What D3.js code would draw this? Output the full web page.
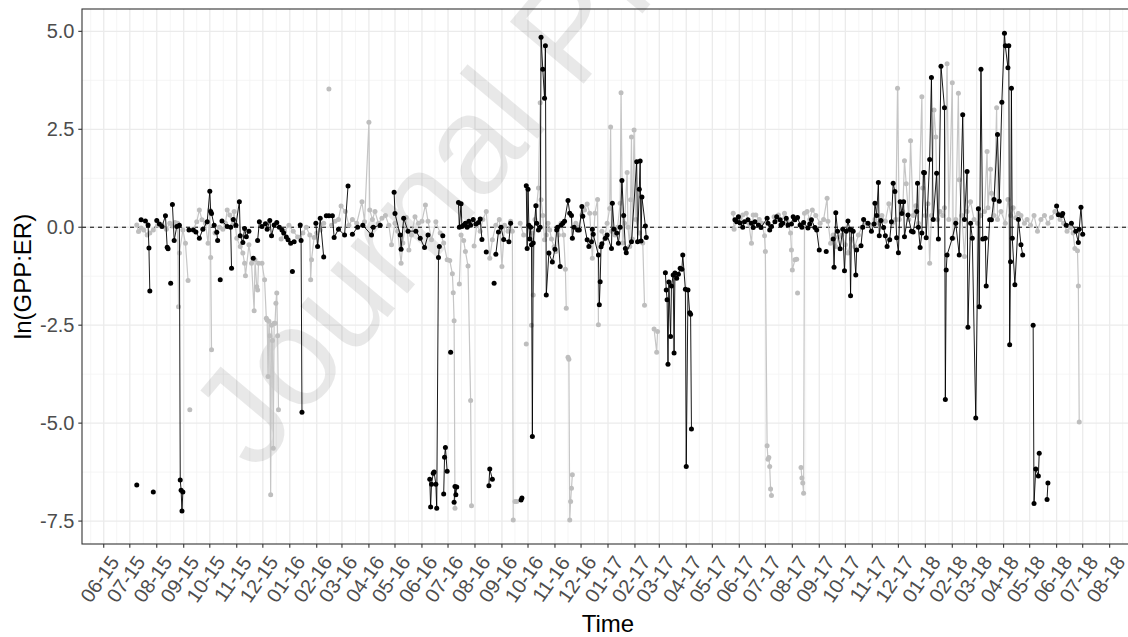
<!DOCTYPE html>
<html>
<head>
<meta charset="utf-8">
<script src="https://cdn.jsdelivr.net/npm/d3@7"></script>
<style>
  body { margin: 0; background: #fff; }
  text { font-family: Arial, "Liberation Sans", Helvetica, sans-serif; }
</style>
</head>
<body>
<svg id="chart" width="1128" height="637"></svg>
<script>
// values: [date, ln(GPP:ER)], null = gap in the record
var blackSeries = [
  ["2015-07-09",-6.58], null,
  ["2015-07-14",0.19],["2015-07-19",0.16],["2015-07-22",0.06],["2015-07-23",-0.53],["2015-07-24",-1.63], null,
  ["2015-07-28",-6.76], null,
  ["2015-08-01",0.17],["2015-08-04",0.08],["2015-08-07",0.02],["2015-08-11",0.29],["2015-08-13",-0.51],["2015-08-14",-0.55], null,
  ["2015-08-17",-1.43], null,
  ["2015-08-19",0.58],["2015-08-21",-0.34],["2015-08-24",0.02],["2015-08-27",0.05],["2015-08-28",-6.45],["2015-08-29",-6.71],["2015-08-30",-7.24],["2015-08-31",-6.76], null,
  ["2015-09-07",-0.07],["2015-09-12",-0.07],["2015-09-15",-0.12],["2015-09-19",-0.28],["2015-09-23",-0.05],["2015-09-28",0.14],["2015-10-01",0.92],["2015-10-02",0.40],["2015-10-03",0.35],["2015-10-06",0.05],["2015-10-09",-0.13],["2015-10-10",-0.34], null,
  ["2015-10-13",-1.34], null,
  ["2015-10-15",0.16],["2015-10-21",0.02],["2015-10-25",0.0],["2015-10-26",-1.05], null,
  ["2015-10-28",0.20],["2015-10-31",0.05],["2015-11-04",0.65],["2015-11-05",-0.22],["2015-11-08",-0.39],["2015-11-10",-0.03],["2015-11-12",-0.24],["2015-11-15",-0.10], null,
  ["2015-11-20",-0.79], null,
  ["2015-11-25",-0.34],["2015-11-27",0.14],["2015-11-30",0.02],["2015-12-04",0.09],["2015-12-06",-0.05],["2015-12-09",0.17],["2015-12-11",-0.22],["2015-12-14",0.06],["2015-12-17",0.12],["2015-12-20",0.0],["2015-12-23",-0.07],["2015-12-25",-0.15],["2015-12-28",-0.25],["2015-12-30",-0.32],["2016-01-02",-0.41], null,
  ["2016-01-04",-1.13], null,
  ["2016-01-06",-0.37], null,
  ["2016-01-13",0.06],["2016-01-14",-0.34],["2016-01-15",-4.72], null,
  ["2016-01-31",0.10],["2016-02-02",-0.49],["2016-02-05",0.23],["2016-02-09",-0.76], null,
  ["2016-02-12",0.29],["2016-02-15",0.29],["2016-02-19",0.29],["2016-02-21",-0.26],["2016-02-26",-0.05],["2016-03-04",-0.20],["2016-03-08",1.05], null,
  ["2016-03-13",-0.18],["2016-03-19",0.0],["2016-03-25",0.05],["2016-04-04",-0.20],["2016-04-06",0.0],["2016-04-14",0.05], null,
  ["2016-04-30",0.89],["2016-05-01",0.35],["2016-05-07",-0.20],["2016-05-08",-0.56],["2016-05-11",0.23],["2016-05-16",-0.10],["2016-05-25",-0.10],["2016-05-30",-0.28],["2016-06-04",-0.52],["2016-06-08",-0.20], null,
  ["2016-06-10",-6.43],["2016-06-11",-7.14],["2016-06-12",-6.56],["2016-06-14",-6.28],["2016-06-15",-6.25],["2016-06-17",-6.56],["2016-06-18",-7.17],["2016-06-20",-0.77],["2016-06-21",-0.49], null,
  ["2016-06-25",-0.22], null,
  ["2016-06-26",-6.81],["2016-06-27",-5.87],["2016-06-28",-5.62],["2016-06-30",-6.23], null,
  ["2016-07-04",-3.19], null,
  ["2016-07-08",-7.02],["2016-07-09",-6.62],["2016-07-10",-6.83],["2016-07-11",-6.63], null,
  ["2016-07-13",0.63],["2016-07-14",0.0],["2016-07-16",0.6],["2016-07-17",0.02],["2016-07-19",0.05],["2016-07-21",0.1],["2016-07-23",0.0],["2016-07-25",0.15],["2016-07-27",0.05],["2016-07-30",0.2],["2016-08-02",0.08],["2016-08-05",0.12],["2016-08-07",0.21],["2016-08-09",-0.31], null,
  ["2016-08-14",-0.63], null,
  ["2016-08-17",-6.60],["2016-08-18",-6.17],["2016-08-21",-6.43], null,
  ["2016-08-23",-1.43], null,
  ["2016-08-25",-0.69],["2016-08-28",-0.12],["2016-08-31",0.0],["2016-09-03",-0.31],["2016-09-09",-0.37],["2016-09-11",0.1], null,
  ["2016-09-23",-6.96],["2016-09-24",-6.91], null,
  ["2016-09-29",1.06],["2016-09-30",-0.54],["2016-10-01",0.97],["2016-10-02",0.05],["2016-10-03",-0.3],["2016-10-04",0.0],["2016-10-05",-0.45],["2016-10-06",-5.34],["2016-10-07",-0.4],["2016-10-10",0.55],["2016-10-11",0.1],["2016-10-13",-0.07],["2016-10-15",0.0],["2016-10-16",4.85],["2016-10-18",4.03],["2016-10-20",3.29],["2016-10-21",4.63],["2016-10-22",-1.73],["2016-10-25",-0.66],["2016-10-29",-0.89],["2016-11-01",-0.56],["2016-11-03",-0.07],["2016-11-04",0.0],["2016-11-07",-1.0], null,
  ["2016-11-08",0.05],["2016-11-10",0.1],["2016-11-12",0.15],["2016-11-16",0.68],["2016-11-18",0.36],["2016-11-20",0.3],["2016-11-21",-0.28],["2016-11-23",0.0],["2016-11-27",-0.07],["2016-11-29",-0.07],["2016-12-02",0.53],["2016-12-03",0.28],["2016-12-08",-0.32],["2016-12-10",-0.49],["2016-12-13",-0.37],["2016-12-14",-0.05],["2016-12-15",-0.18],["2016-12-21",-0.71],["2016-12-22",-1.98],["2016-12-23",-1.39],["2016-12-24",-0.5],["2016-12-25",-0.42],["2016-12-29",-0.28],["2016-12-31",-0.2],
  ["2017-01-05",-0.54],["2017-01-06",0.61],["2017-01-08",-0.05],["2017-01-11",-0.15],["2017-01-13",-0.41],["2017-01-15",0.0],["2017-01-17",1.19],["2017-01-19",0.3],["2017-01-21",-0.54],["2017-01-22",-0.65],["2017-01-28",-0.37],["2017-02-03",1.67],["2017-02-04",-0.37],["2017-02-06",0.97],["2017-02-07",1.69],["2017-02-08",-0.35],["2017-02-09",0.77],["2017-02-13",0.03],["2017-02-14",-0.26], null,
  ["2017-03-08",-1.16],["2017-03-09",-1.6],["2017-03-10",-1.85],["2017-03-11",-3.5],["2017-03-12",-1.4],["2017-03-14",-2.79],["2017-03-15",-1.5],["2017-03-17",-1.22],["2017-03-18",-3.21],["2017-03-19",-1.17],["2017-03-21",-1.3],["2017-03-23",-1.2],["2017-03-25",-1.05],["2017-03-27",-1.07],["2017-03-28",-0.71],["2017-03-31",-1.58],["2017-04-01",-6.11],["2017-04-03",-1.6],["2017-04-05",-2.18],["2017-04-06",-2.22],["2017-04-07",-5.15], null,
  ["2017-05-27",0.19],["2017-05-29",0.14],["2017-05-31",0.27],["2017-06-02",0.11],["2017-06-05",0.0],["2017-06-07",0.14],["2017-06-11",0.19],["2017-06-15",0.1],["2017-06-17",-0.01],["2017-06-19",0.14],["2017-06-23",0.06],["2017-06-26",-0.01],["2017-07-03",0.23],["2017-07-04",0.1],["2017-07-06",-0.07],["2017-07-08",0.02],["2017-07-12",0.14],["2017-07-14",0.27],["2017-07-18",0.19],["2017-07-19",0.06],["2017-07-21",0.1],["2017-07-25",0.23],["2017-07-27",0.06],["2017-07-31",0.08],["2017-08-02",0.27],["2017-08-04",0.19],["2017-08-07",0.25],["2017-08-10",0.06],["2017-08-12",0.0],["2017-08-14",0.12],["2017-08-19",-0.02],["2017-08-21",0.08],["2017-08-23",0.19],["2017-08-27",-0.01],["2017-08-29",-0.07],["2017-09-01",-0.58], null,
  ["2017-09-09",-0.62], null,
  ["2017-09-17",-0.3],["2017-09-18",-1.02],["2017-09-20",0.37],["2017-09-22",-0.1],["2017-09-25",-0.55],["2017-09-28",-0.05],["2017-09-30",-1.11],["2017-10-02",-0.1],["2017-10-04",0.16],["2017-10-06",-0.05],["2017-10-07",-1.75],["2017-10-08",-0.07],["2017-10-10",-0.1],["2017-10-13",-1.22],["2017-10-14",-0.58],["2017-10-19",-0.47],["2017-10-21",0.0],["2017-10-22",0.2],["2017-10-27",0.1],["2017-10-31",-0.1],
  ["2017-11-03",0.08],["2017-11-04",0.61],["2017-11-06",0.3],["2017-11-08",1.14],["2017-11-09",-0.22],["2017-11-11",0.17],["2017-11-14",-0.01],["2017-11-16",-0.22],["2017-11-18",-0.49],["2017-11-21",-0.32],["2017-11-23",0.14],["2017-11-25",1.12],["2017-11-27",0.91],["2017-11-29",-0.27],["2017-12-01",-0.65],["2017-12-03",0.65],["2017-12-05",0.35],["2017-12-07",0.65],["2017-12-08",-0.24],["2017-12-12",0.31],["2017-12-16",-0.1],["2017-12-18",-0.12],["2017-12-22",0.40],["2017-12-23",1.12],["2017-12-24",0.0],["2017-12-26",-0.52],["2017-12-28",-0.15],["2017-12-30",1.40],["2017-12-31",1.39],
  ["2018-01-02",-0.27],["2018-01-06",1.73],["2018-01-08",3.82],["2018-01-10",0.2],["2018-01-14",1.38],["2018-01-16",-0.3],["2018-01-19",4.11],["2018-01-23",3.05],["2018-01-24",-4.40],["2018-01-25",-1.09],["2018-01-26",-0.71],["2018-02-01",-0.28],["2018-02-05",0.1],["2018-02-09",-0.71],["2018-02-13",2.87],["2018-02-15",0.2],["2018-02-18",1.42],["2018-02-19",-2.55],["2018-02-22",0.1],["2018-02-24",-0.28],["2018-02-28",-4.87],["2018-03-03",0.47],["2018-03-04",-2.03],["2018-03-06",4.03],["2018-03-08",-0.3],["2018-03-11",-0.28],["2018-03-12",-1.5],["2018-03-16",0.19],["2018-03-18",0.19],["2018-03-21",0.71],["2018-03-25",2.37],["2018-03-27",0.66],["2018-03-30",3.19],["2018-04-02",4.95],["2018-04-03",4.63],["2018-04-06",4.07],["2018-04-07",4.63],["2018-04-08",-3.0],["2018-04-09",-0.88],["2018-04-10",3.55],["2018-04-11",-0.28],["2018-04-14",-1.47],["2018-04-18",0.2],["2018-04-21",-0.45],["2018-04-23",-0.71], null,
  ["2018-05-05",-2.5],["2018-05-06",-7.05],["2018-05-08",-6.17],["2018-05-11",-6.35],["2018-05-12",-5.77], null,
  ["2018-05-21",-6.95],["2018-05-22",-6.53], null,
  ["2018-06-01",0.54],["2018-06-03",0.32],["2018-06-07",0.3],["2018-06-08",0.35],["2018-06-12",0.05],["2018-06-18",0.1],["2018-06-23",-0.1],["2018-06-26",-0.39],["2018-06-27",-0.05],["2018-06-29",0.51],["2018-07-01",-0.18]
];

var greySeries = [
  ["2015-07-09",0.06],["2015-07-11",-0.11],["2015-07-14",-0.02],["2015-07-17",-0.07],["2015-07-21",-0.2],["2015-07-24",-0.15],["2015-07-28",-0.07],["2015-08-02",0.05],["2015-08-07",0.06],["2015-08-12",-0.05],["2015-08-16",0.1],["2015-08-19",0.03],["2015-08-22",0.12],["2015-08-25",0.1],["2015-08-26",-2.03],["2015-08-27",-0.66],["2015-08-31",-0.07],["2015-09-03",-0.41],["2015-09-06",-1.36], null,
  ["2015-09-08",-4.66], null,
  ["2015-09-12",-0.05],["2015-09-16",0.14],["2015-09-19",0.44],["2015-09-22",0.19],["2015-09-26",0.1],["2015-09-29",-0.41],["2015-10-01",0.44],["2015-10-02",-0.77],["2015-10-03",-3.13], null,
  ["2015-10-07",-0.15],["2015-10-12",0.0],["2015-10-16",-0.05],["2015-10-19",0.1],["2015-10-21",0.44],["2015-10-24",0.31],["2015-10-27",0.05],["2015-10-29",0.4],["2015-10-30",0.14],["2015-11-01",-0.28],["2015-11-05",-0.49],["2015-11-08",-0.66],["2015-11-10",-0.92],["2015-11-11",-1.24],["2015-11-15",-0.45],["2015-11-18",-0.92],["2015-11-21",-2.13],["2015-11-22",-0.83],["2015-11-24",-1.52],["2015-11-25",-1.6],["2015-11-26",-0.92],["2015-11-30",-0.92],["2015-12-03",-1.34],["2015-12-05",-2.32],["2015-12-06",-2.37],["2015-12-07",-3.81],["2015-12-08",-2.4],["2015-12-09",-2.77],["2015-12-10",-6.83],["2015-12-11",-2.5],["2015-12-12",-2.89],["2015-12-13",-5.64],["2015-12-14",-2.45],["2015-12-15",-2.45],["2015-12-16",-1.94],["2015-12-17",-1.68],["2015-12-18",-2.77],["2015-12-19",-4.66], null,
  ["2015-12-22",-0.3],["2015-12-26",-0.1],["2015-12-31",0.05],["2016-01-05",-0.1],["2016-01-10",-0.25],["2016-01-16",-0.15],["2016-01-20",0.0],["2016-01-24",-0.2],["2016-01-25",-1.34],["2016-01-26",-0.83],["2016-01-29",-0.26],["2016-02-01",-0.15],["2016-02-05",-0.07],["2016-02-09",0.1], null,
  ["2016-02-15",3.53], null,
  ["2016-02-18",0.05],["2016-02-22",0.15],["2016-02-26",0.2],["2016-02-29",0.54],["2016-03-05",0.4],["2016-03-09",0.05],["2016-03-13",0.2],["2016-03-18",0.1],["2016-03-24",0.65],["2016-03-27",0.14],["2016-04-01",2.68],["2016-04-02",0.44],["2016-04-05",0.2],["2016-04-08",0.4],["2016-04-12",0.1],["2016-04-16",0.23],["2016-04-20",0.3],["2016-04-24",0.05],["2016-04-27",-0.45],["2016-05-01",0.1],["2016-05-04",-0.1],["2016-05-08",-0.92],["2016-05-10",-0.4],["2016-05-14",0.25],["2016-05-17",-0.58],["2016-05-20",-0.2],["2016-05-24",0.27],["2016-05-28",0.1],["2016-06-01",0.15],["2016-06-05",0.57],["2016-06-08",0.15],["2016-06-12",-0.32],["2016-06-17",0.14],["2016-06-22",-0.15],["2016-06-26",-0.4],["2016-06-30",-0.83],["2016-07-03",-0.85],["2016-07-06",-1.19],["2016-07-07",-1.67],["2016-07-08",-2.39],["2016-07-09",-7.17], null,
  ["2016-07-14",-1.45],["2016-07-16",-0.2],["2016-07-19",-0.34],["2016-07-21",-0.62],["2016-07-24",-0.99],["2016-07-27",-4.42],["2016-07-28",-7.11], null,
  ["2016-07-31",-0.48],["2016-08-03",0.05],["2016-08-07",-0.1],["2016-08-10",0.2],["2016-08-14",0.4],["2016-08-18",-0.79],["2016-08-21",-0.32],["2016-08-25",0.05],["2016-08-29",0.2],["2016-09-01",-1.0],["2016-09-04",0.05],["2016-09-08",-0.1],["2016-09-11",0.15],["2016-09-13",-0.1],["2016-09-14",-7.47], null,
  ["2016-09-16",-7.0],["2016-09-18",-7.0], null,
  ["2016-09-22",0.1],["2016-09-26",-0.2], null,
  ["2016-09-29",-2.98], null,
  ["2016-10-05",-2.5], null,
  ["2016-10-06",-0.15],["2016-10-07",-1.73],["2016-10-09",0.2],["2016-10-11",0.55],["2016-10-13",1.0],["2016-10-15",3.18],["2016-10-16",0.7],["2016-10-18",0.3],["2016-10-20",-0.32],["2016-10-22",-0.2],["2016-10-24",0.1],["2016-10-26",-0.07],["2016-10-28",-0.3],["2016-10-31",-0.5],["2016-11-02",-0.62],["2016-11-05",-0.2],["2016-11-08",0.1],["2016-11-11",-0.2],["2016-11-13",-1.07],["2016-11-14",-2.07], null,
  ["2016-11-16",-3.32],["2016-11-17",-3.37],["2016-11-18",-7.47],["2016-11-19",-7.0],["2016-11-20",-6.66],["2016-11-21",-6.32], null,
  ["2016-11-25",0.1],["2016-11-28",0.0],["2016-12-02",0.31],["2016-12-05",0.44],["2016-12-08",0.59],["2016-12-11",0.36],["2016-12-14",-0.79],["2016-12-17",0.36],["2016-12-20",0.71],["2016-12-21",-2.49], null,
  ["2016-12-25",-0.1],["2016-12-28",-0.3],["2016-12-31",0.1],["2017-01-03",0.48],["2017-01-04",2.56],["2017-01-05",-0.1],["2017-01-09",-0.2],["2017-01-12",0.0],["2017-01-15",0.61],["2017-01-16",3.43],["2017-01-18",-0.4],["2017-01-20",0.1],["2017-01-23",1.4],["2017-01-24",0.0],["2017-01-26",-0.49],["2017-01-27",0.7],["2017-01-28",2.30],["2017-01-29",-0.3],["2017-01-31",2.48],["2017-02-02",0.2],["2017-02-06",-0.15],["2017-02-10",-0.4],["2017-02-12",-1.99], null,
  ["2017-02-23",-2.6],["2017-02-26",-3.19],["2017-02-27",-2.66], null,
  ["2017-05-25",0.36],["2017-05-26",-0.05],["2017-05-29",0.2],["2017-06-02",0.23],["2017-06-05",0.31],["2017-06-09",0.36],["2017-06-12",0.1],["2017-06-15",-0.41],["2017-06-17",0.31],["2017-06-20",0.31],["2017-06-24",0.2],["2017-06-27",0.1],["2017-06-30",-0.22],["2017-07-01",-0.62],["2017-07-03",-5.58],["2017-07-04",-5.92],["2017-07-05",-5.88],["2017-07-06",-6.11],["2017-07-07",-6.68],["2017-07-08",-6.85], null,
  ["2017-07-11",0.27],["2017-07-14",0.2],["2017-07-16",0.31],["2017-07-19",0.1],["2017-07-23",0.36],["2017-07-26",0.15],["2017-07-30",-0.15],["2017-07-31",-0.58],["2017-08-01",-1.09],["2017-08-04",-0.83],["2017-08-06",-0.82], null,
  ["2017-08-07",-1.68], null,
  ["2017-08-11",-6.13],["2017-08-12",-6.4],["2017-08-13",-6.53],["2017-08-14",-6.79],["2017-08-15",0.36],["2017-08-18",0.4],["2017-08-21",0.2],["2017-08-24",0.44],["2017-08-28",0.3],["2017-09-02",0.1],["2017-09-06",0.2],["2017-09-10",0.74],["2017-09-11",0.15],["2017-09-14",-0.41],["2017-09-17",-0.2],["2017-09-20",-0.49],["2017-09-23",-0.25],["2017-09-27",-0.2],["2017-10-01",-0.45],["2017-10-04",-0.66],["2017-10-08",-0.3],["2017-10-12",-0.5],["2017-10-16",-0.2],["2017-10-20",0.0],["2017-10-25",0.1],["2017-10-30",0.05],
  ["2017-11-04",0.2],["2017-11-08",0.1],["2017-11-12",0.3],["2017-11-16",0.15],["2017-11-20",0.6],["2017-11-24",0.1],["2017-11-28",0.2],["2017-11-30",3.55],["2017-12-02",0.2],["2017-12-06",0.4],["2017-12-08",1.7],["2017-12-10",1.11],["2017-12-13",0.2],["2017-12-15",2.21],["2017-12-18",0.3],["2017-12-21",0.55],["2017-12-24",0.1],["2017-12-28",3.33],["2017-12-29",1.0],
  ["2018-01-01",0.3],["2018-01-04",0.6],["2018-01-06",-0.92],["2018-01-08",0.3],["2018-01-11",2.99],["2018-01-13",2.30],["2018-01-15",0.2],["2018-01-18",0.4],["2018-01-21",0.3],["2018-01-23",0.5],["2018-01-26",4.17],["2018-01-28",0.2],["2018-02-01",3.69],["2018-02-02",-0.28],["2018-02-05",0.2],["2018-02-08",3.42],["2018-02-09",1.21],["2018-02-12",0.3],["2018-02-15",-0.75],["2018-02-18",0.4],["2018-02-22",0.65],["2018-02-26",0.2],["2018-03-02",0.1],["2018-03-06",0.3],["2018-03-10",0.4],["2018-03-13",1.93],["2018-03-14",0.5],["2018-03-17",1.48],["2018-03-18",0.87],["2018-03-21",0.3],["2018-03-24",3.05],["2018-03-25",0.2],["2018-03-29",0.4],["2018-04-03",0.1],["2018-04-06",0.71],["2018-04-09",0.3],["2018-04-12",0.5],["2018-04-15",0.24],["2018-04-18",0.35],["2018-04-21",0.3],["2018-04-25",0.1],["2018-04-28",0.2],["2018-05-02",0.05],["2018-05-06",0.3],["2018-05-10",-0.1],["2018-05-14",0.2],["2018-05-18",0.3],["2018-05-22",0.1],["2018-05-26",0.25],["2018-05-30",0.4],["2018-06-02",0.36],["2018-06-05",0.2],["2018-06-09",0.1],["2018-06-13",-0.1],["2018-06-17",0.0],["2018-06-20",-0.15],["2018-06-22",-0.54],["2018-06-25",-0.6],["2018-06-26",-1.5],["2018-06-27",-4.97]
];

var yTicks = [-7.5, -5.0, -2.5, 0.0, 2.5, 5.0];
var yMinor = [-6.25, -3.75, -1.25, 1.25, 3.75];
var xDomain = ["2015-05-07", "2018-08-29"];
var yDomain = [-8.085, 5.57];
var watermark = "Journal Pre-proof";

var W = 1128, H = 637;
var panel = {left: 82, right: 1134, top: 9, bottom: 544};

var parseDate = d3.timeParse("%Y-%m-%d");
var fmtTick = d3.timeFormat("%m-%y");

function rows(series) {
  return series.map(function(p) {
    return p ? {date: parseDate(p[0]), value: p[1]} : null;
  });
}
var black = rows(blackSeries), grey = rows(greySeries);

var x = d3.scaleTime()
  .domain(xDomain.map(parseDate))
  .range([panel.left, panel.right]);
var y = d3.scaleLinear().domain(yDomain).range([panel.bottom, panel.top]);

// monthly breaks, minor breaks half way between them
var months = d3.timeMonth.range(parseDate("2015-06-01"), parseDate("2018-08-02"));
var minor = [];
for (var i = 0; i < months.length - 1; i++) {
  minor.push(new Date((+months[i] + +months[i + 1]) / 2));
}
minor.unshift(new Date(+months[0] - (+months[1] - +months[0]) / 2));
minor.push(new Date(+months[months.length - 1] + (+months[1] - +months[0]) / 2));

var svg = d3.select("#chart");
svg.append("rect").attr("width", W).attr("height", H).attr("fill", "#fff");

svg.append("clipPath").attr("id", "clip")
  .append("rect")
  .attr("x", panel.left).attr("y", panel.top)
  .attr("width", panel.right - panel.left).attr("height", panel.bottom - panel.top);

var grid = svg.append("g").attr("clip-path", "url(#clip)");

grid.selectAll(".vminor").data(minor).enter().append("line")
  .attr("x1", function(d) { return x(d); }).attr("x2", function(d) { return x(d); })
  .attr("y1", panel.top).attr("y2", panel.bottom)
  .attr("stroke", "#f3f3f3").attr("stroke-width", 0.8);
grid.selectAll(".hminor").data(yMinor).enter().append("line")
  .attr("x1", panel.left).attr("x2", panel.right)
  .attr("y1", function(d) { return y(d); }).attr("y2", function(d) { return y(d); })
  .attr("stroke", "#f3f3f3").attr("stroke-width", 0.8);
grid.selectAll(".vmajor").data(months).enter().append("line")
  .attr("x1", function(d) { return x(d); }).attr("x2", function(d) { return x(d); })
  .attr("y1", panel.top).attr("y2", panel.bottom)
  .attr("stroke", "#ebebeb").attr("stroke-width", 1.3);
grid.selectAll(".hmajor").data(yTicks).enter().append("line")
  .attr("x1", panel.left).attr("x2", panel.right)
  .attr("y1", function(d) { return y(d); }).attr("y2", function(d) { return y(d); })
  .attr("stroke", "#ebebeb").attr("stroke-width", 1.3);

// watermark of the source document, kept inside the picture
svg.append("clipPath").attr("id", "page")
  .append("rect").attr("width", W).attr("height", H);
svg.append("g").attr("clip-path", "url(#page)")
  .append("text")
  .attr("transform", "translate(256,474) rotate(-50)")
  .attr("font-size", 140)
  .attr("fill", "#000").attr("fill-opacity", 0.09)
  .text(watermark);

var plot = svg.append("g").attr("clip-path", "url(#clip)");

plot.append("line")
  .attr("x1", panel.left).attr("x2", panel.right)
  .attr("y1", y(0)).attr("y2", y(0))
  .attr("stroke", "#000").attr("stroke-width", 1)
  .attr("stroke-dasharray", "4,4");

var line = d3.line()
  .defined(function(d) { return d !== null; })
  .x(function(d) { return x(d.date); })
  .y(function(d) { return y(d.value); });

function drawSeries(data, lineColor, lineWidth, pointColor) {
  plot.append("path").datum(data)
    .attr("d", line)
    .attr("fill", "none")
    .attr("stroke", lineColor)
    .attr("stroke-width", lineWidth);
  plot.append("g").selectAll("circle")
    .data(data.filter(function(d) { return d !== null; }))
    .enter().append("circle")
    .attr("cx", function(d) { return x(d.date); })
    .attr("cy", function(d) { return y(d.value); })
    .attr("r", 2.5)
    .attr("fill", pointColor);
}
drawSeries(grey, "#c6c6c6", 1.2, "#bebebe");
drawSeries(black, "#000", 0.9, "#000");

// panel border
svg.append("rect")
  .attr("x", panel.left).attr("y", panel.top)
  .attr("width", panel.right - panel.left).attr("height", panel.bottom - panel.top)
  .attr("fill", "none").attr("stroke", "#333").attr("stroke-width", 1.1);

// y axis
var yAxis = svg.append("g");
yAxis.selectAll("line").data(yTicks).enter().append("line")
  .attr("x1", panel.left - 3.7).attr("x2", panel.left)
  .attr("y1", function(d) { return y(d); }).attr("y2", function(d) { return y(d); })
  .attr("stroke", "#333").attr("stroke-width", 1.1);
yAxis.selectAll("text").data(yTicks).enter().append("text")
  .attr("x", panel.left - 7.5)
  .attr("y", function(d) { return y(d); })
  .attr("dy", "0.35em")
  .attr("text-anchor", "end")
  .attr("font-size", 20)
  .attr("fill", "#4d4d4d")
  .text(function(d) { return d3.format(".1f")(d).replace("\u2212", "-"); });

// x axis
var xAxis = svg.append("g");
xAxis.selectAll("line").data(months).enter().append("line")
  .attr("x1", function(d) { return x(d); }).attr("x2", function(d) { return x(d); })
  .attr("y1", panel.bottom).attr("y2", panel.bottom + 3.7)
  .attr("stroke", "#333").attr("stroke-width", 1.1);
xAxis.selectAll("text").data(months).enter().append("text")
  .attr("transform", function(d) {
    return "translate(" + (x(d) - 4) + "," + 579 + ") rotate(-55)";
  })
  .attr("dy", "0.35em")
  .attr("text-anchor", "middle")
  .attr("font-size", 20)
  .attr("fill", "#4d4d4d")
  .text(function(d) { return fmtTick(d); });

// titles
svg.append("text")
  .attr("x", (panel.left + panel.right) / 2).attr("y", 632)
  .attr("text-anchor", "middle")
  .attr("font-size", 24).attr("fill", "#000")
  .text("Time");
svg.append("text")
  .attr("transform", "translate(23," + (panel.top + panel.bottom) / 2 + ") rotate(-90)")
  .attr("dy", "0.35em")
  .attr("text-anchor", "middle")
  .attr("font-size", 24).attr("fill", "#000")
  .text("ln(GPP:ER)");
</script>
</body>
</html>
